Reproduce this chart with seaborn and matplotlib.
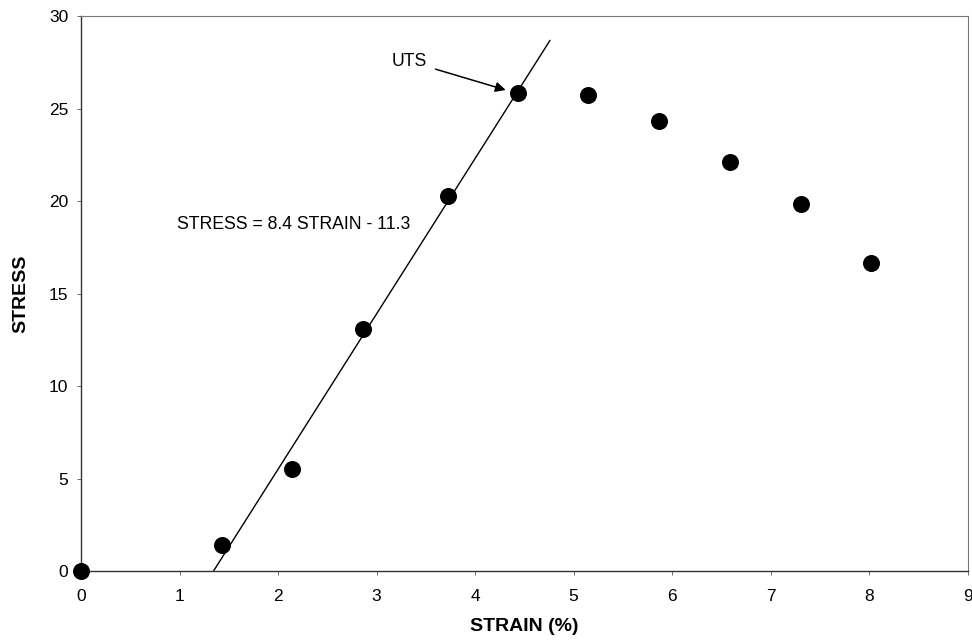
import numpy as np
import pandas as pd
import matplotlib.pyplot as plt
import seaborn as sns

# ── Data ──────────────────────────────────────────────────────────────────────
strain = [0.0, 1.43, 2.14, 2.86, 3.72, 4.44, 5.15, 5.87, 6.59, 7.31, 8.02]
stress = [0.0, 1.40, 5.50, 13.08, 20.27, 25.86, 25.73, 24.34, 22.12, 19.82, 16.65]

fit_slope, fit_icept = 8.4, -11.3
fit_x = [1.345, 4.76]

eq_label = "STRESS = 8.4 STRAIN - 11.3"
uts_label = "UTS"

df = pd.DataFrame({'strain': strain, 'stress': stress})
fit = pd.DataFrame({'strain': fit_x})
fit['stress'] = fit_slope * fit['strain'] + fit_icept

# ── Style ─────────────────────────────────────────────────────────────────────
sns.set_style("ticks", {'text.color': 'black', 'axes.labelcolor': 'black',
                        'xtick.color': 'black', 'ytick.color': 'black'})
plt.rcParams['font.family'] = ['Liberation Sans', 'DejaVu Sans']

fig = plt.figure(figsize=(9.72, 6.4), dpi=100)
ax = fig.add_axes([0.0833, 0.1078, 0.9124, 0.8672])

sns.lineplot(data=fit, x='strain', y='stress', ax=ax, color='black', linewidth=1.0)
sns.scatterplot(data=df, x='strain', y='stress', ax=ax, color='black',
                s=150, edgecolor='black', linewidth=0, zorder=5, clip_on=False)

ax.set_xlim(0, 9)
ax.set_ylim(0, 30)
ax.set_xticks(range(0, 10))
ax.set_yticks(range(0, 31, 5))
ax.tick_params(labelsize=12.5, length=3, width=0.6, color='#555555')
ax.tick_params(axis='x', pad=10)
ax.tick_params(axis='y', pad=6)

for side in ['left', 'bottom']:
    ax.spines[side].set_color('#333333')
    ax.spines[side].set_linewidth(1.0)
for side in ['top', 'right']:
    ax.spines[side].set_visible(True)
    ax.spines[side].set_color('#777777')
    ax.spines[side].set_linewidth(0.8)

ax.set_xlabel('STRAIN (%)', fontsize=14, fontweight='bold', labelpad=10)
ax.set_ylabel('STRESS', fontsize=14, fontweight='bold', labelpad=14)

# ── Annotations ───────────────────────────────────────────────────────────────
ax.text(0.97, 18.75, eq_label, fontsize=12.7, va='center', ha='left')
ax.annotate(uts_label, xy=(4.31, 26.0), xytext=(3.51, 27.55),
            fontsize=12.7, ha='right', va='center',
            arrowprops=dict(arrowstyle='-|>', color='black', lw=1.1,
                            mutation_scale=15, shrinkA=4, shrinkB=0))

plt.savefig("out.png", dpi=100)
